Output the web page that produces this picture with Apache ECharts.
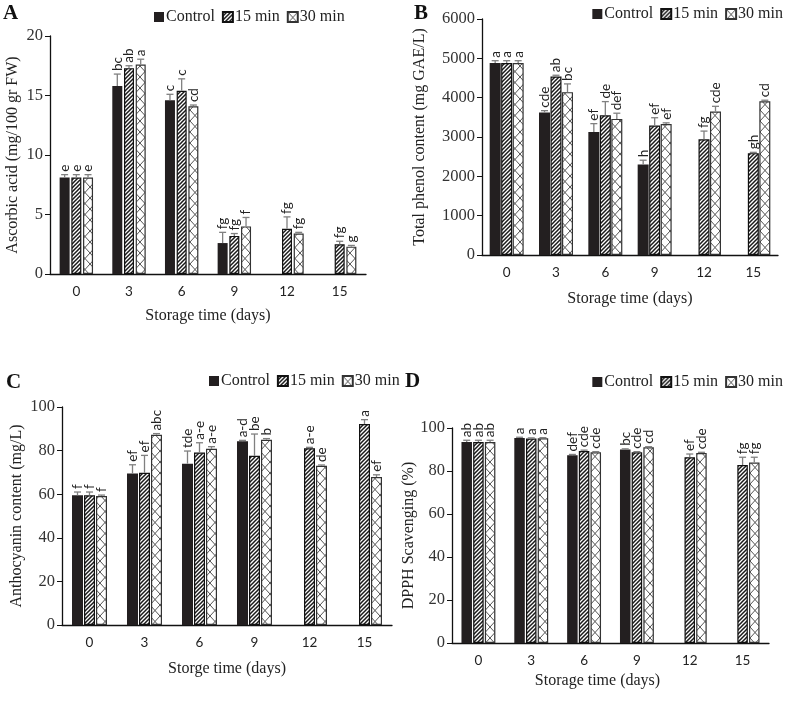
<!DOCTYPE html>
<html><head><meta charset="utf-8">
<script src="https://cdn.jsdelivr.net/npm/echarts@6/dist/echarts.min.js"></script>
<style>html,body{margin:0;padding:0;background:#fff}#c{width:787px;height:704px}</style>
</head><body><div id="c"></div>
<script>
const days = ['0','3','6','9','12','15'];
const seriesNames = ['Control','15 min','30 min'];

// Panel A: Ascorbic acid
const ascControl = [8.1, 15.8, 14.6, 2.6, null, null];
const asc15 = [8.1, 17.3, 15.4, 3.2, 3.8, 2.5];
const asc30 = [8.1, 17.6, 14.1, 4.0, 3.4, 2.3];
const ascControlSE = [0.25, 1.0, 0.5, 0.9, null, null];
const asc15SE = [0.25, 0.2, 1.0, 0.2, 1.0, 0.25];
const asc30SE = [0.25, 0.45, 0.1, 0.75, 0.1, 0.1];
const ascControlLet = ['e','bc','c','fg','',''];
const asc15Let = ['e','ab','c','fg','fg','fg'];
const asc30Let = ['e','a','cd','f','fg','g'];

// Panel B: Total phenol
const tpcControl = [4880, 3620, 3130, 2300, null, null];
const tpc15 = [4880, 4540, 3550, 3290, 2940, 2590];
const tpc30 = [4880, 4140, 3460, 3330, 3650, 3910];
const tpcControlSE = [60, 50, 210, 110, null, null];
const tpc15SE = [60, 30, 350, 200, 210, 20];
const tpc30SE = [60, 210, 145, 30, 130, 25];
const tpcControlLet = ['a','cde','ef','h','',''];
const tpc15Let = ['a','ab','de','ef','fg','gh'];
const tpc30Let = ['a','bc','def','ef','cde','cd'];

// Panel C: Anthocyanin
const antControl = [59.5, 69.5, 74.0, 84.3, null, null];
const ant15 = [59.5, 69.8, 79.1, 77.6, 81.1, 92.2];
const ant30 = [59.2, 87.3, 80.8, 85.0, 73.0, 67.9];
const antControlSE = [1.5, 4, 5.8, 0.4, null, null];
const ant15SE = [1.5, 8, 4.5, 10, 0.4, 2];
const ant30SE = [0.4, 0.5, 1, 0.5, 0.4, 1];
const antControlLet = ['f','ef','tde','a-d','',''];
const ant15Let = ['f','ef','a-e','be','a-e','a'];
const ant30Let = ['f','abc','a-e','b','de','ef'];

// Panel D: DPPH
const dpphControl = [93.5, 95.4, 87.3, 90.0, null, null];
const dpph15 = [93.5, 95.1, 89.3, 88.7, 86.4, 82.8];
const dpph30 = [93.5, 95.2, 88.7, 91.0, 88.4, 83.9];
const dpphControlSE = [0.8, 0.3, 0.4, 0.3, null, null];
const dpph15SE = [0.8, 0.3, 0.4, 0.3, 1.5, 3.6];
const dpph30SE = [0.8, 0.3, 0.3, 0.3, 0.3, 2.5];
const dpphControlLet = ['ab','a','def','bc','',''];
const dpph15Let = ['ab','a','cde','cde','ef','fg'];
const dpph30Let = ['ab','a','cde','cd','cde','fg'];

const yTicksA = {min:0, max:20, interval:5};
const yTicksB = {min:0, max:6000, interval:1000};
const yTicksC = {min:0, max:100, interval:20};
const yTicksD = {min:0, max:100, interval:20};

function hatch(){
  const c=document.createElement('canvas'); c.width=4; c.height=4;
  const g=c.getContext('2d'); g.fillStyle='#fff'; g.fillRect(0,0,4,4);
  g.strokeStyle='#1a1a1a'; g.lineWidth=1.5; g.beginPath();
  g.moveTo(-1,5); g.lineTo(5,-1);
  g.moveTo(-1,1); g.lineTo(1,-1);
  g.moveTo(3,5); g.lineTo(5,3);
  g.stroke(); return c;
}
function cross(){
  const c=document.createElement('canvas'); c.width=10; c.height=11;
  const g=c.getContext('2d'); g.fillStyle='#fff'; g.fillRect(0,0,10,11);
  g.strokeStyle='#555'; g.lineWidth=1; g.beginPath();
  g.moveTo(0,0); g.lineTo(10,11); g.moveTo(10,0); g.lineTo(0,11);
  g.stroke(); return c;
}
const fills = [
  {color:'#231f20', borderColor:'#231f20', borderWidth:0},
  {color:{image:hatch(), repeat:'repeat'}, borderColor:'#111', borderWidth:1.2},
  {color:{image:cross(), repeat:'repeat'}, borderColor:'#333', borderWidth:1.2}
];

const panels = [
  {vals:[ascControl,asc15,asc30], se:[ascControlSE,asc15SE,asc30SE], lets:[ascControlLet,asc15Let,asc30Let],
   ticks:yTicksA, yName:'Ascorbic acid (mg/100 gr FW)', xName:'Storage time (days)',
   grid:{left:50, top:36, width:316, height:238}, barW:10, gapPx:1.7, yGap:29, xGap:34, xPad:0,
   legend:{left:154, top:9}, tag:{t:'A', left:3, top:3}},
  {vals:[tpcControl,tpc15,tpc30], se:[tpcControlSE,tpc15SE,tpc30SE], lets:[tpcControlLet,tpc15Let,tpc30Let],
   ticks:yTicksB, yName:'Total phenol content (mg GAE/L)', xName:'Storage time (days)',
   grid:{left:482, top:19, width:296, height:236}, barW:11, gapPx:0.5, yGap:54, xGap:36, xPad:0,
   legend:{right:4, top:6}, tag:{t:'B', left:414, top:3}},
  {vals:[antControl,ant15,ant30], se:[antControlSE,ant15SE,ant30SE], lets:[antControlLet,ant15Let,ant30Let],
   ticks:yTicksC, yName:'Anthocyanin content (mg/L)', xName:'Storge time (days)',
   grid:{left:62, top:407, width:330, height:218}, barW:11, gapPx:1, yGap:37, xGap:36, xPad:0,
   legend:{left:209, top:373}, tag:{t:'C', left:6, top:372}},
  {vals:[dpphControl,dpph15,dpph30], se:[dpphControlSE,dpph15SE,dpph30SE], lets:[dpphControlLet,dpph15Let,dpph30Let],
   ticks:yTicksD, yName:'DPPH Scavenging (%)', xName:'Storage time (days)',
   grid:{left:452, top:428, width:317, height:215}, barW:10.5, gapPx:1.2, yGap:35, xGap:30, xPad:26,
   legend:{right:4, top:374}, tag:{t:'D', left:405, top:371}}
];

const serif = 'Liberation Serif';
const sans = 'Lato';
const option = {animation:false, backgroundColor:'#fff',
  grid:[], xAxis:[], yAxis:[], series:[], legend:[], title:[]};

panels.forEach((p, pi) => {
  option.grid.push(Object.assign({containLabel:false}, p.grid));
  option.title.push({text:p.tag.t, left:p.tag.left, top:p.tag.top, padding:0,
    textStyle:{fontFamily:serif, fontWeight:'bold', fontSize:21, color:'#111'}});
  option.legend.push(Object.assign({data:seriesNames, padding:0, orient:'horizontal',
    itemWidth:10, itemHeight:10, itemGap:7, icon:'rect',
    textStyle:{fontFamily:serif, fontSize:16, color:'#222', padding:[0,0,0,-3]}}, p.legend));
  option.xAxis.push({type:'category', gridIndex:pi, data:days,
    axisLine:{lineStyle:{color:'#111', width:1.3}},
    axisTick:{alignWithLabel:true, length:4, lineStyle:{color:'#111'}},
    axisLabel:{fontFamily:sans, fontSize:13.5, color:'#222', margin:11},
    name:p.xName, nameLocation:'middle', nameGap:p.xGap,
    nameTextStyle:{fontFamily:serif, fontSize:16, color:'#222', padding:[0,p.xPad,0,0]}});
  option.yAxis.push({type:'value', gridIndex:pi, min:p.ticks.min, max:p.ticks.max, interval:p.ticks.interval,
    axisLine:{show:true, lineStyle:{color:'#111', width:1.3}},
    axisTick:{show:true, length:5, lineStyle:{color:'#111'}},
    splitLine:{show:false},
    axisLabel:{fontFamily:serif, fontSize:16.5, color:'#333', margin:7, formatter:v => String(v)},
    name:p.yName, nameLocation:'middle', nameGap:p.yGap, nameRotate:90,
    nameTextStyle:{fontFamily:serif, fontSize:16, color:'#222'}});
  const stride = p.barW + p.gapPx;
  p.vals.forEach((vals, si) => {
    option.series.push({type:'bar', name:seriesNames[si], xAxisIndex:pi, yAxisIndex:pi,
      data:vals.map(v => v == null ? '-' : v), barWidth:p.barW,
      barGap:(p.gapPx / p.barW * 100).toFixed(1) + '%', barCategoryGap:'40%',
      itemStyle:fills[si], emphasis:{disabled:true}});
  });
  p.vals.forEach((vals, si) => {
    const se = p.se[si], lets = p.lets[si];
    const off = (si - 1) * stride;
    option.series.push({type:'custom', xAxisIndex:pi, yAxisIndex:pi, silent:true, z:5,
      data:vals.map((v, i) => [i, v == null ? 0 : v, se[i] == null ? 0 : se[i]]),
      renderItem:(params, api) => {
        const i = params.dataIndex;
        if (vals[i] == null) return null;
        const v = api.value(1), e = api.value(2);
        const b = api.coord([api.value(0), v]);
        const t = api.coord([api.value(0), v + e]);
        const x = b[0] + off;
        const ls = {stroke:'#808080', lineWidth:1.3};
        return {type:'group', children:[
          {type:'line', shape:{x1:x, y1:b[1], x2:x, y2:t[1]}, style:ls},
          {type:'line', shape:{x1:x-3.5, y1:t[1], x2:x+3.5, y2:t[1]}, style:ls},
          {type:'text', x:x, y:t[1]-3, rotation:Math.PI/2,
           style:{text:lets[i], fontFamily:sans, fontSize:13.5, fill:'#222', align:'left', verticalAlign:'middle'}}
        ]};
      }});
  });
});

const chart = echarts.init(document.getElementById('c'), null, {renderer:'canvas'});
chart.setOption(option);
</script></body></html>
